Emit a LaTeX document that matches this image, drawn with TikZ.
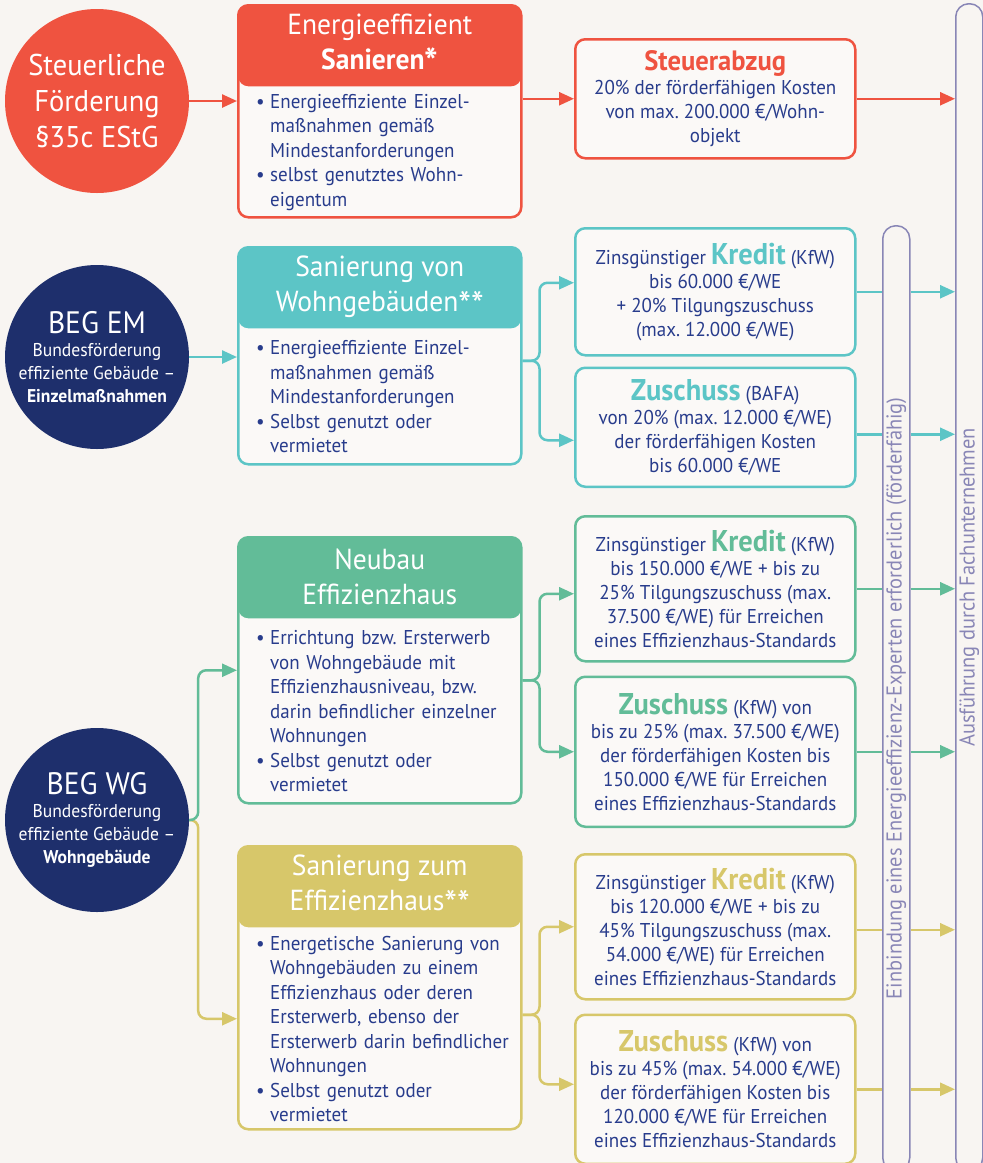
\documentclass[tikz,border=0pt]{standalone}
\usepackage{fontspec}
\setmainfont{PT Sans}[FakeStretch=0.95]
\usetikzlibrary{arrows.meta,positioning}
\definecolor{Paper}{HTML}{F8F5F2}
\definecolor{Inner}{HTML}{FBF9F7}
\definecolor{Coral}{HTML}{EF5340}
\definecolor{Navy}{HTML}{1E2F6C}
\definecolor{Aqua}{HTML}{5CC5C6}
\definecolor{Mint}{HTML}{62BC98}
\definecolor{Ochre}{HTML}{D7C76A}
\definecolor{Ink}{HTML}{283C8C}
\definecolor{Lilac}{HTML}{8986B6}
\frenchspacing
\newcommand{\bdot}{\makebox[14pt][l]{\textbullet}}
\newcommand{\bpad}{\hspace*{14pt}}
\newcommand{\tagword}[2]{{\fontsize{30}{30}\selectfont\bfseries\color{#1}#2}}
\newcommand{\subline}{\fontsize{18.5}{23}\selectfont}
\newcommand{\astx}{\raisebox{-0.22em}{\fontsize{38}{38}\selectfont*}}

\begin{document}
\begin{tikzpicture}[
  x=1pt, y=1pt,
  card/.style={draw=#1, fill=Inner, line width=2.5pt, rounded corners=10pt,
               anchor=north west, inner sep=0pt, minimum width=283pt,
               path picture={\fill[#1] (path picture bounding box.north west)
                 rectangle ([yshift=-81pt]path picture bounding box.north east);}},
  cardhead/.style={text=white, align=center, font=\fontsize{29}{35}\selectfont},
  bodylist/.style={text=Ink, align=left, anchor=west, inner sep=0pt, text width=262pt,
                   font=\fontsize{20}{24.5}\selectfont},
  offer/.style={draw=#1, fill=Inner, line width=2.5pt, rounded corners=10pt,
                minimum width=280pt, inner sep=0pt, text=Ink, align=center,
                font=\fontsize{20}{24}\selectfont},
  roundel/.style={circle, fill=#1, minimum size=184pt, inner sep=0pt,
                  text=white, align=center},
  railbar/.style={draw=Lilac, line width=1.5pt, rounded corners=13pt,
                  minimum width=27pt, inner sep=0pt, anchor=north west},
  bartext/.style={text=Lilac, rotate=90, font=\fontsize{21.5}{24}\selectfont},
  link/.style={draw=#1, line width=2.5pt, rounded corners=8pt,
               -{Triangle[length=15pt,width=13pt]}},
  wire/.style={draw=#1, line width=2.5pt},
  node distance=10pt
]
  \fill[Paper] (0,0) rectangle (983,-1163);
  \useasboundingbox (0,0) rectangle (983,-1163);

  \node[railbar, minimum height=1167pt] (fach) at (955,-3) {};
  \node[bartext] at (fach) {Ausführung durch Fachunternehmen};
  \node[railbar, minimum height=945pt] (expert) at (882,-225) {};
  \node[bartext] at (expert) {Einbindung eines Energieeffizienz-Experten erforderlich (förderfähig)};

  \node[roundel=Coral, font=\fontsize{30}{36}\selectfont] (tax) at (97,-101) {Steuerliche\\Förderung\\§35c EStG};
  \node[roundel=Navy, font=\subline] (em) at (97,-357) {{\fontsize{31}{34}\selectfont BEG EM}\\Bundesförderung\\effiziente Gebäude –\\\textbf{Einzelmaßnahmen}};
  \node[roundel=Navy, font=\subline] (wg) at (97,-820) {{\fontsize{31}{34}\selectfont BEG WG}\\Bundesförderung\\effiziente Gebäude –\\\textbf{Wohngebäude}};

  \node[card=Coral, minimum height=212pt] (san) at (237,-4) {};
  \node[cardhead] at ([yshift=-41pt]san.north) {Energieeffizient\\\textbf{Sanieren\astx}};
  \node[bodylist] at ([xshift=19pt,yshift=-41pt]san.west) {\bdot Energieeffiziente Einzel-\\\bpad maßnahmen gemäß\\\bpad Mindestanforderungen\\\bdot selbst genutztes Wohn-\\\bpad eigentum};

  \node[card=Aqua, minimum height=217pt] (wohn) at (237,-246) {};
  \node[cardhead] at ([yshift=-41pt]wohn.north) {Sanierung von\\Wohngebäuden\astx\astx};
  \node[bodylist] at ([xshift=19pt,yshift=-41pt]wohn.west) {\bdot Energieeffiziente Einzel-\\\bpad maßnahmen gemäß\\\bpad Mindestanforderungen\\\bdot Selbst genutzt oder\\\bpad vermietet};

  \node[card=Mint, minimum height=266pt] (neu) at (237,-536) {};
  \node[cardhead] at ([yshift=-41pt]neu.north) {Neubau\\Effizienzhaus};
  \node[bodylist] at ([xshift=19pt,yshift=-41pt]neu.west) {\bdot Errichtung bzw. Ersterwerb\\\bpad von Wohngebäude mit\\\bpad Effizienzhausniveau, bzw.\\\bpad darin befindlicher einzelner\\\bpad Wohnungen\\\bdot Selbst genutzt oder\\\bpad vermietet};

  \node[card=Ochre, minimum height=283pt] (eff) at (237,-845) {};
  \node[cardhead] at ([yshift=-41pt]eff.north) {Sanierung zum\\Effizienzhaus\astx\astx};
  \node[bodylist] at ([xshift=19pt,yshift=-41pt]eff.west) {\bdot Energetische Sanierung von\\\bpad Wohngebäuden zu einem\\\bpad Effizienzhaus oder deren\\\bpad Ersterwerb, ebenso der\\\bpad Ersterwerb darin befindlicher\\\bpad Wohnungen\\\bdot Selbst genutzt oder\\\bpad vermietet};

  \node[offer=Coral, minimum height=119pt, anchor=north west] (abzug) at (574,-38) {{\fontsize{28}{30}\selectfont\bfseries\color{Coral}Steuerabzug}\\20\% der förderfähigen Kosten\\von max. 200.000 €/Wohn-\\objekt};

  \node[offer=Aqua, minimum height=127pt, anchor=north west] (kred2) at (574,-227) {Zinsgünstiger \tagword{Aqua}{Kredit} (KfW)\\bis 60.000 €/WE\\+ 20\% Tilgungszuschuss\\(max. 12.000 €/WE)};
  \node[offer=Aqua, minimum height=119pt, below=of kred2] (zus2) {\tagword{Aqua}{Zuschuss} (BAFA)\\von 20\% (max. 12.000 €/WE)\\der förderfähigen Kosten\\bis 60.000 €/WE};

  \node[offer=Mint, minimum height=145pt, anchor=north west] (kred3) at (574,-515) {Zinsgünstiger \tagword{Mint}{Kredit} (KfW)\\bis 150.000 €/WE + bis zu\\25\% Tilgungszuschuss (max.\\37.500 €/WE) für Erreichen\\eines Effizienzhaus-Standards};
  \node[offer=Mint, minimum height=150pt, below=13pt of kred3] (zus3) {\tagword{Mint}{Zuschuss} (KfW) von\\bis zu 25\% (max. 37.500 €/WE)\\der förderfähigen Kosten bis\\150.000 €/WE für Erreichen\\eines Effizienzhaus-Standards};

  \node[offer=Ochre, minimum height=145pt, anchor=north west] (kred4) at (574,-853) {Zinsgünstiger \tagword{Ochre}{Kredit} (KfW)\\bis 120.000 €/WE + bis zu\\45\% Tilgungszuschuss (max.\\54.000 €/WE) für Erreichen\\eines Effizienzhaus-Standards};
  \node[offer=Ochre, minimum height=149pt, below=13pt of kred4] (zus4) {\tagword{Ochre}{Zuschuss} (KfW) von\\bis zu 45\% (max. 54.000 €/WE)\\der förderfähigen Kosten bis\\120.000 €/WE für Erreichen\\eines Effizienzhaus-Standards};

  \draw[link=Coral] (tax) -- (tax -| san.west);
  \draw[link=Coral] (abzug.west -| san.east) -- (abzug.west);
  \draw[link=Coral] (abzug) -- (abzug -| fach.west);

  \draw[link=Aqua] (em) -- (em -| wohn.west);
  \draw[link=Aqua] ([yshift=-5pt]wohn.east) -- ++(17,0) |- ([yshift=9pt]kred2.west);
  \draw[link=Aqua] ([yshift=-5pt]wohn.east) -- ++(17,0) |- ([yshift=-13pt]zus2.west);
  \draw[wire=Aqua] (kred2.east) -- (kred2.east -| expert.west);
  \draw[link=Aqua] (kred2.east -| expert.east) -- (kred2.east -| fach.west);
  \draw[wire=Aqua] ([yshift=-7pt]zus2.east) -- ([yshift=-7pt]zus2.east -| expert.west);
  \draw[link=Aqua] ([yshift=-7pt]zus2.east -| expert.east) -- ([yshift=-7pt]zus2.east -| fach.west);

  \draw[link=Ochre] (wg.east) -- ++(9,0) |- ([yshift=-31pt]eff.west);
  \draw[link=Mint] (wg.east) -- ++(9,0) |- (neu.west);

  \draw[link=Mint] ([yshift=-10pt]neu.east) -- ++(17,0) |- ([yshift=-5pt]kred3.west);
  \draw[link=Mint] ([yshift=-10pt]neu.east) -- ++(17,0) |- (zus3.west);
  \draw[wire=Mint] (kred3.east) -- (kred3.east -| expert.west);
  \draw[link=Mint] (kred3.east -| expert.east) -- (kred3.east -| fach.west);
  \draw[wire=Mint] (zus3.east) -- (zus3.east -| expert.west);
  \draw[link=Mint] (zus3.east -| expert.east) -- (zus3.east -| fach.west);

  \draw[link=Ochre] ([yshift=-27pt]eff.east) -- ++(17,0) |- (kred4.west);
  \draw[link=Ochre] ([yshift=-27pt]eff.east) -- ++(17,0) |- ([yshift=5pt]zus4.west);
  \draw[wire=Ochre] ([yshift=-3pt]kred4.east) -- ([yshift=-3pt]kred4.east -| expert.west);
  \draw[link=Ochre] ([yshift=-3pt]kred4.east -| expert.east) -- ([yshift=-3pt]kred4.east -| fach.west);
  \draw[wire=Ochre] (zus4.east) -- (zus4.east -| expert.west);
  \draw[link=Ochre] (zus4.east -| expert.east) -- (zus4.east -| fach.west);
\end{tikzpicture}
\end{document}
